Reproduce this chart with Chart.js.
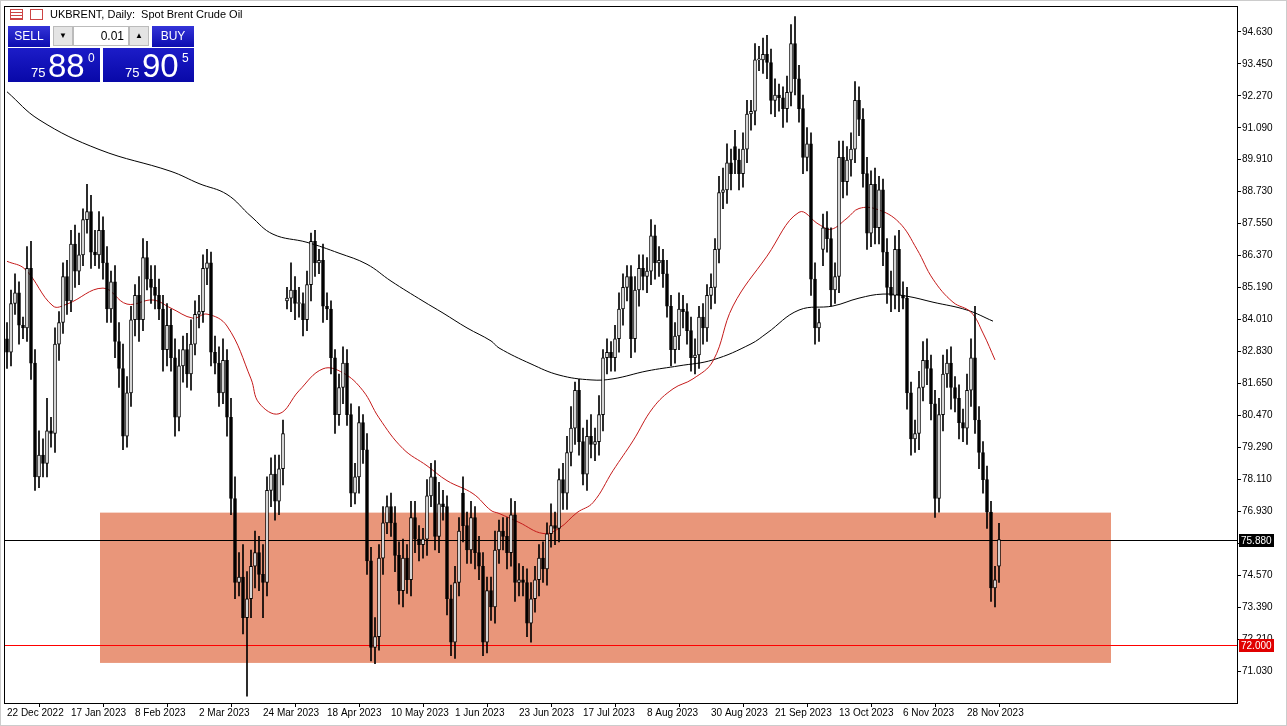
<!DOCTYPE html>
<html><head><meta charset="utf-8">
<script src="https://cdn.jsdelivr.net/npm/chart.js@4"></script>
<style>
html,body{margin:0;padding:0;background:#fff;overflow:hidden}
#wrap{position:relative;width:1287px;height:726px}
canvas{position:absolute;left:0;top:0}
.ov{position:absolute;font-family:"Liberation Sans",Arial,sans-serif}
.blue{background:linear-gradient(#3434d8,#0c0cb0);color:#fff}
</style></head><body>
<div id="wrap"><canvas id="c" width="1287" height="726"></canvas>
<div class="ov" style="left:10px;top:9px;width:13px;height:11px;border:1px solid #c44;box-sizing:border-box;background:repeating-linear-gradient(#fff 0 2px,#c44 2px 3px)"></div>
<div class="ov" style="left:30px;top:9px;width:13px;height:11px;border:1px solid #c44;box-sizing:border-box;background:#fff"></div>
<div class="ov" style="left:50px;top:8px;font-size:11px;color:#000;white-space:pre">UKBRENT, Daily:  Spot Brent Crude Oil</div>
<div class="ov blue" style="left:8px;top:26px;width:42px;height:21px;font-size:12px;line-height:21px;text-align:center">SELL</div>
<div class="ov" style="left:53px;top:26px;width:20px;height:20px;background:#e4e4e4;border:1px solid #bbb;box-sizing:border-box;font-size:8px;line-height:18px;text-align:center">▼</div>
<div class="ov" style="left:73px;top:26px;width:56px;height:20px;background:#fff;border:1px solid #bbb;box-sizing:border-box;font-size:12px;line-height:18px;text-align:right;padding-right:4px">0.01</div>
<div class="ov" style="left:129px;top:26px;width:20px;height:20px;background:#e4e4e4;border:1px solid #bbb;box-sizing:border-box;font-size:8px;line-height:18px;text-align:center">▲</div>
<div class="ov blue" style="left:152px;top:26px;width:42px;height:21px;font-size:12px;line-height:21px;text-align:center">BUY</div>
<div class="ov blue" style="left:8px;top:48px;width:92px;height:34px;background:linear-gradient(#1c1cc8,#0808a8)">
 <span class="ov" style="left:23px;top:17px;font-size:13px">75</span>
 <span class="ov" style="left:40px;top:-1px;font-size:33px">88</span>
 <span class="ov" style="left:80px;top:3px;font-size:12px">0</span></div>
<div class="ov blue" style="left:103px;top:48px;width:91px;height:34px;background:linear-gradient(#1c1cc8,#0808a8)">
 <span class="ov" style="left:22px;top:17px;font-size:13px">75</span>
 <span class="ov" style="left:39px;top:-1px;font-size:33px">90</span>
 <span class="ov" style="left:79px;top:3px;font-size:12px">5</span></div>
</div>
<script>
const dateLabels=["22 Dec 2022","17 Jan 2023","8 Feb 2023","2 Mar 2023","24 Mar 2023","18 Apr 2023","10 May 2023","1 Jun 2023","23 Jun 2023","17 Jul 2023","8 Aug 2023","30 Aug 2023","21 Sep 2023","13 Oct 2023","6 Nov 2023","28 Nov 2023"];
const dateIdx=[0,16,32,48,64,80,96,112,128,144,160,176,192,208,224,240];
const priceTicks=[71.03,72.21,73.39,74.57,75.75,76.93,78.11,79.29,80.47,81.65,82.83,84.01,85.19,86.37,87.55,88.73,89.91,91.09,92.27,93.45,94.63];
const closes=[82.8,84.6,85.0,83.8,83.7,85.9,82.4,78.2,79.0,78.7,
79.9,79.8,83.1,83.9,85.6,84.7,86.8,85.8,86.4,87.7,
88.0,86.5,86.4,87.3,86.1,84.4,85.4,83.2,82.2,79.7,
81.3,84.0,84.9,84.0,86.3,85.5,85.2,84.9,84.4,82.9,
83.8,82.6,80.4,82.3,82.9,82.0,83.1,84.2,84.3,85.9,
86.1,82.8,82.4,81.3,82.5,80.4,77.4,74.3,74.5,73.0,
73.7,74.9,75.4,74.6,74.3,77.7,78.3,77.3,78.5,79.8,
84.8,85.1,84.6,84.6,84.0,85.3,86.9,86.1,86.2,84.5,
84.4,82.6,80.5,81.5,82.4,80.5,77.6,78.2,80.2,79.2,
75.1,71.9,72.3,75.2,76.5,77.1,76.5,75.3,74.0,75.2,
74.4,76.7,75.9,75.7,75.9,77.5,78.2,76.0,77.2,77.1,
73.7,72.1,74.3,76.2,76.4,75.5,76.7,75.4,74.9,72.1,
74.0,73.4,75.5,76.2,76.0,75.4,76.8,74.3,74.4,74.3,
72.8,73.7,74.4,75.2,74.8,76.1,76.4,76.3,78.1,77.6,
79.1,80.0,81.4,79.5,78.3,79.7,79.4,79.5,80.5,82.6,
82.8,82.6,83.3,84.4,85.2,85.6,83.3,85.1,85.9,85.6,
85.8,87.1,86.1,86.2,85.7,84.5,82.9,83.4,84.4,84.3,
83.6,82.6,82.7,84.1,83.7,84.9,85.2,86.6,88.7,88.8,
89.8,89.4,89.9,89.4,90.3,91.6,91.7,93.6,93.6,93.8,
93.5,92.1,92.3,92.2,91.8,92.4,94.2,92.9,91.8,90.0,
90.5,85.5,83.7,83.9,87.4,87.0,85.1,85.6,90.0,89.1,
89.9,90.3,92.1,91.4,89.4,87.2,89.0,87.4,88.8,86.5,
85.2,84.9,86.6,84.9,84.8,81.3,79.6,79.8,81.5,82.5,
82.2,80.9,77.4,80.5,82.0,82.4,81.5,81.1,80.2,80.0,
81.4,82.6,80.3,79.1,78.1,76.9,74.1,74.4,75.88];
const firstOpen=83.3;
const gapOpens={70:84.7,114:77.6,182:90.4,204:86.6,248:74.9};
const upWick=[0.6,0.5,0.7,0.4,0.3,0.8,1.0,0.5,0.9,0.6,
1.2,0.5,0.6,0.4,0.5,0.6,0.5,0.7,0.8,0.4,
1.0,0.6,0.8,0.7,0.5,0.6,0.4,0.6,0.7,0.9,
0.6,0.5,0.4,0.7,0.7,0.6,0.5,0.8,0.6,0.5,
0.8,0.6,0.7,0.6,0.5,0.6,0.9,0.5,0.6,0.5,
0.5,0.4,0.6,0.6,0.8,0.4,0.7,0.8,0.9,1.2,
1.0,0.6,0.8,0.6,1.1,0.5,0.6,0.7,0.5,0.5,
0.4,1.0,0.5,0.6,0.4,0.5,0.3,0.4,0.4,0.6,
0.5,0.3,0.3,0.5,0.6,0.5,0.4,0.5,0.6,0.3,
0.6,0.5,0.7,0.5,0.6,0.4,0.5,0.6,0.5,0.7,
0.5,0.6,0.6,0.5,0.4,0.6,0.5,0.6,0.8,0.5,
0.4,0.5,0.6,0.5,0.6,0.5,0.6,0.4,0.6,0.5,
0.5,0.5,0.7,0.4,0.5,0.7,0.6,0.5,0.6,0.5,
0.5,0.6,0.5,0.5,0.6,0.4,0.8,0.5,0.4,0.6,
0.6,0.8,0.3,0.4,0.5,0.6,0.8,0.5,0.7,0.3,
0.5,0.4,0.5,0.6,0.5,0.4,0.4,0.5,0.5,0.5,
0.5,0.6,0.4,0.5,0.4,0.5,0.4,0.5,0.6,0.5,
0.3,0.5,0.6,0.4,0.5,0.4,0.5,0.4,0.6,0.8,
0.7,0.5,0.6,0.4,0.6,0.5,0.4,0.6,0.5,0.6,
0.7,0.5,0.6,0.4,0.4,0.6,0.7,1.0,0.5,0.5,
0.6,0.4,0.6,0.5,0.5,0.6,0.4,0.5,0.6,0.6,
0.5,0.6,0.7,0.5,0.4,0.6,0.5,0.6,0.5,0.4,
0.5,0.6,0.5,0.7,0.5,0.4,0.4,0.5,0.6,0.7,
0.8,0.5,0.5,0.6,0.7,0.5,0.6,0.4,0.5,0.5,
0.6,0.7,1.9,0.5,0.4,0.5,0.4,0.5,0.6];
const downWick=[0.6,0.5,0.4,0.7,0.4,0.5,0.6,0.5,0.4,0.5,
0.5,0.5,0.7,0.6,0.4,0.5,0.4,0.6,0.5,0.4,
0.5,0.6,0.4,0.5,0.6,0.5,0.5,0.6,0.7,0.5,
0.4,0.5,0.6,0.8,0.4,0.4,0.6,0.5,0.4,0.8,
0.6,0.5,0.7,0.5,0.6,0.5,0.6,0.4,0.5,0.4,
0.6,0.5,0.4,0.5,0.4,0.7,0.6,0.6,0.5,0.6,
2.9,0.7,0.8,0.6,1.3,0.5,0.6,0.7,0.5,0.6,
0.3,0.5,0.6,0.5,0.6,0.4,0.6,0.5,0.4,0.6,
0.4,0.6,0.7,0.4,0.6,0.4,0.5,0.4,0.6,0.5,
0.5,0.5,0.6,0.5,0.6,0.4,0.5,0.6,0.5,0.6,
0.5,0.6,0.5,0.6,0.5,0.6,0.4,0.5,0.6,0.5,
0.6,0.5,0.6,0.5,0.6,0.5,0.5,0.6,0.5,0.5,
0.4,0.5,0.6,0.5,0.5,0.6,0.5,0.7,0.5,0.5,
0.5,0.7,0.5,0.6,0.5,0.6,0.5,0.6,0.5,0.6,
0.6,0.5,0.6,0.5,0.4,0.6,0.5,0.6,0.5,0.6,
0.6,0.5,0.5,0.5,0.6,0.5,0.7,0.5,0.6,0.5,
0.6,0.5,0.6,0.5,0.5,0.4,0.6,0.5,0.5,0.6,
0.5,0.5,0.6,0.5,0.6,0.5,0.5,0.6,0.5,0.6,
0.5,0.6,0.5,0.6,0.5,0.5,0.6,0.5,0.4,0.5,
0.6,0.5,0.6,0.5,0.7,0.5,0.5,0.6,0.5,0.6,
0.5,0.6,0.6,0.5,0.6,0.5,0.6,0.5,0.6,0.6,
0.5,0.6,0.5,0.6,0.5,0.6,0.5,0.6,0.6,0.5,
0.6,0.6,0.5,0.6,0.4,0.6,0.6,0.5,0.6,0.5,
0.6,0.6,0.7,0.5,0.6,0.5,0.8,0.5,0.6,0.5,
0.6,0.6,0.5,0.6,0.5,0.6,0.5,0.7,0.6];
const maFastIdx=[0,4.5,11.5,15,24,30,36.5,41,46.5,50,55,61,63,68,73,79,84,89,93,99,105,110,116.5,121,123,128,134,138,142.5,146.5,151.5,156.5,161.5,166.5,171.5,176.5,181.5,190,198,203,206,210,213,217.5,223,227.5,231.5,236.5,241,244,247];
const maFastVal=[86.16,85.87,84.51,84.58,85.17,84.58,84.73,84.43,84.06,84.21,83.77,81.82,80.93,80.53,81.38,82.19,82.04,81.38,80.38,79.24,78.61,78.06,77.58,76.96,76.85,76.52,76.11,76.30,76.88,77.25,78.43,79.53,80.75,81.45,81.82,82.48,84.51,86.35,87.97,87.52,87.34,87.75,88.11,88.08,87.60,86.60,85.50,84.65,84.28,83.51,82.52];
const maSlowIdx=[0,8,23,41,48,55,61,66.5,75,83,90,96,104,109,115,121,123,131,138,146,151.5,160,168,176.5,186,190,198,206.5,213,219,225,231.5,240,246.5];
const maSlowVal=[92.42,91.39,90.29,89.48,89.03,88.63,87.82,87.16,86.86,86.46,86.05,85.43,84.69,84.25,83.70,83.22,82.96,82.37,81.96,81.78,81.82,82.11,82.30,82.52,83.11,83.51,84.36,84.51,84.80,84.95,84.87,84.65,84.36,83.95];
const zone={fromIdx:23.25,toIdx:276,top:76.88,bottom:71.33};
const bidLine=75.88, supportLine=72.0;

const FONT='"Liberation Sans", Arial, sans-serif';
const opens=closes.map((c,i)=>gapOpens[i]!==undefined?gapOpens[i]:(i?closes[i-1]:firstOpen));
const bodies=[],wicks=[],bodyBg=[];
closes.forEach((c,i)=>{const o=opens[i];
 bodies.push({x:i,y:[o,c]});
 wicks.push({x:i,y:[Math.min(o,c)-downWick[i],Math.max(o,c)+upWick[i]]});
 bodyBg.push(c>=o?'#ffffff':'#000000');});

const overlay={id:'ov',
 beforeDatasetsDraw(ch){const {ctx,scales:{x,y},chartArea:a}=ch;ctx.save();
  ctx.fillStyle='#E9967A';const x1=x.getPixelForValue(zone.fromIdx),x2=x.getPixelForValue(zone.toIdx),y1=y.getPixelForValue(zone.top),y2=y.getPixelForValue(zone.bottom);
  ctx.fillRect(x1,y1,x2-x1,y2-y1);
  [[bidLine,'#000'],[supportLine,'#ff0000']].forEach(([v,col])=>{const py=Math.round(y.getPixelForValue(v));ctx.fillStyle=col;ctx.fillRect(a.left,py,a.right-a.left,1);});
  ctx.restore();},
 afterDraw(ch){const {ctx,scales:{y},chartArea:a}=ch;ctx.save();
  ctx.strokeStyle='#000';ctx.lineWidth=1;ctx.strokeRect(a.left-0.5,a.top-0.5,a.right-a.left+1,a.bottom-a.top+1);
  ctx.strokeStyle='#ccc';ctx.strokeRect(0.5,0.5,1286,725);
  ctx.font='10px '+FONT;ctx.textBaseline='middle';
  [[bidLine,'#000','75.880'],[supportLine,'#e00000','72.000']].forEach(([v,col,t])=>{const py=Math.round(y.getPixelForValue(v));ctx.fillStyle=col;ctx.fillRect(a.right+2,py-6,35,13);ctx.fillStyle='#fff';ctx.fillText(t,a.right+4,py+1);});
  ctx.restore();}};

new Chart(document.getElementById('c'),{
 data:{datasets:[
  {type:'line',data:maFastIdx.map((v,i)=>({x:v,y:maFastVal[i]})),borderColor:'#c41a1a',borderWidth:1,pointRadius:0,tension:0.4,order:3},
  {type:'line',data:maSlowIdx.map((v,i)=>({x:v,y:maSlowVal[i]})),borderColor:'#000',borderWidth:1,pointRadius:0,tension:0.4,order:3},
  {type:'bar',data:wicks,backgroundColor:'#000',barThickness:1,grouped:false,order:2},
  {type:'bar',data:bodies,backgroundColor:bodyBg,borderColor:'#000',borderWidth:1,borderSkipped:false,barThickness:3,minBarLength:1,grouped:false,order:1}
 ]},
 options:{responsive:false,animation:false,events:[],
  layout:{padding:{left:5,top:5,right:0,bottom:0}},
  plugins:{legend:{display:false},tooltip:{enabled:false}},
  scales:{
   x:{type:'linear',min:-0.5,max:307.5,offset:false,
    afterFit(s){s.height=23;},
    afterBuildTicks(s){s.ticks=dateIdx.map(v=>({value:v}));},
    grid:{drawOnChartArea:false,drawTicks:true,tickLength:4,color:'#000'},border:{display:false},
    ticks:{autoSkip:false,maxRotation:0,align:'start',padding:0,color:'#000',font:{size:10,family:FONT},callback:(v)=>{const k=dateIdx.indexOf(v);return k>=0?dateLabels[k]:'';}}},
   y:{position:'right',min:69.85,max:95.55,
    afterFit(s){s.width=50;},
    afterBuildTicks(s){s.ticks=priceTicks.map(v=>({value:v}));},
    grid:{drawOnChartArea:false,drawTicks:true,tickLength:4,color:'#000'},border:{display:false},
    ticks:{padding:1,color:'#000',font:{size:10,family:FONT},callback:v=>v.toFixed(3)}}
  }},
 plugins:[overlay]});
</script></body></html>
